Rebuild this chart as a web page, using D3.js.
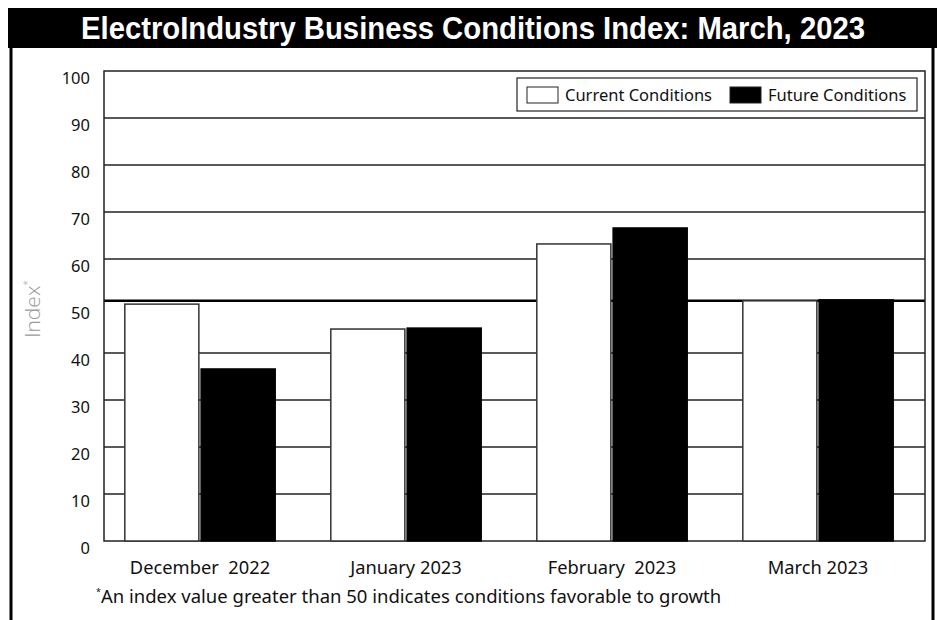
<!DOCTYPE html>
<html>
<head>
    <title>ElectroIndustry Business Conditions Index</title>
    <script src="https://d3js.org/d3.v7.min.js"></script>
    <style>
        body { margin: 0; background: #fff; }
        text { font-family: "Noto Sans", sans-serif; }
    </style>
</head>
<body>
    <svg width="938" height="620"></svg>
    <script>
        // chart data
        var months = ["December  2022", "January 2023", "February  2023", "March 2023"];
        var series = ["Current Conditions", "Future Conditions"];
        var current = [50.4, 45.1, 63.2, 51.1];
        var future = [36.6, 45.3, 66.6, 51.3];
        var yTicks = [0, 10, 20, 30, 40, 50, 60, 70, 80, 90, 100];
        var gridValues = [10, 20, 30, 40, 60, 70, 80, 90];
        var threshold = [51.1];

        var svg = d3.select("svg");

        var plot = { left: 104, right: 925, top: 71, bottom: 541 };

        var y = d3.scaleLinear().domain([0, 100]).range([plot.bottom, plot.top]);
        var x0 = d3.scaleBand().domain(months).range([97, 921])
            .paddingInner(0.27).paddingOuter(0.135);
        var x1 = d3.scaleBand().domain(series).range([0, x0.bandwidth()]).paddingInner(0.03);
        var fill = d3.scaleOrdinal().domain(series).range(["#fff", "#000"]);

        // outer frame
        svg.append("line").attr("x1", 11).attr("x2", 11).attr("y1", 30).attr("y2", 620)
            .attr("stroke", "#000").attr("stroke-width", 3);
        svg.append("line").attr("x1", 933).attr("x2", 933).attr("y1", 30).attr("y2", 620)
            .attr("stroke", "#000").attr("stroke-width", 3);

        // title bar
        svg.append("rect").attr("x", 8).attr("y", 8).attr("width", 929).attr("height", 40)
            .attr("fill", "#000");
        svg.append("text")
            .attr("x", 81).attr("y", 39)
            .attr("textLength", 784)
            .attr("lengthAdjust", "spacingAndGlyphs")
            .style("font-family", "'Liberation Sans', Arial, sans-serif")
            .style("font-weight", "bold")
            .style("font-size", "31px")
            .attr("fill", "#fff")
            .text("ElectroIndustry Business Conditions Index: March, 2023");

        // gridlines
        svg.selectAll(".grid")
            .data(gridValues)
            .enter().append("line")
            .attr("class", "grid")
            .attr("x1", plot.left).attr("x2", plot.right)
            .attr("y1", function(d) { return y(d); })
            .attr("y2", function(d) { return y(d); })
            .attr("stroke", "#222").attr("stroke-width", 1.5);

        // thick growth line
        svg.selectAll(".thresh")
            .data(threshold)
            .enter().append("line")
            .attr("class", "thresh")
            .attr("x1", plot.left).attr("x2", plot.right)
            .attr("y1", function(d) { return y(d); })
            .attr("y2", function(d) { return y(d); })
            .attr("stroke", "#000").attr("stroke-width", 2.5);

        // plot border
        svg.append("rect")
            .attr("x", plot.left).attr("y", plot.top)
            .attr("width", plot.right - plot.left).attr("height", plot.bottom - plot.top)
            .attr("fill", "none").attr("stroke", "#222").attr("stroke-width", 1.5);

        // bars
        var rows = months.map(function(m, i) {
            return { month: m, values: [
                { key: series[0], value: current[i] },
                { key: series[1], value: future[i] }
            ] };
        });

        var groups = svg.selectAll(".group")
            .data(rows)
            .enter().append("g")
            .attr("class", "group")
            .attr("transform", function(d) { return "translate(" + x0(d.month) + ",0)"; });

        groups.selectAll("rect")
            .data(function(d) { return d.values; })
            .enter().append("rect")
            .attr("x", function(d) { return x1(d.key); })
            .attr("width", x1.bandwidth())
            .attr("y", function(d) { return y(d.value); })
            .attr("height", function(d) { return y(0) - y(d.value); })
            .attr("fill", function(d) { return fill(d.key); })
            .attr("stroke", function(d) { return d.key === series[0] ? "#333" : "#000"; })
            .attr("stroke-width", 1.5);

        // y tick labels
        svg.selectAll(".ytick")
            .data(yTicks)
            .enter().append("text")
            .attr("class", "ytick")
            .attr("x", 90)
            .attr("y", function(d) { return y(d) + 13; })
            .attr("text-anchor", "end")
            .style("font-size", "16.5px")
            .attr("fill", "#111")
            .text(function(d) { return d; });

        // x labels
        svg.selectAll(".xlabel")
            .data(months)
            .enter().append("text")
            .attr("class", "xlabel")
            .attr("x", function(d) { return x0(d) + x0.bandwidth() / 2; })
            .attr("y", 574)
            .attr("text-anchor", "middle")
            .style("font-size", "18.3px")
            .style("white-space", "pre")
            .attr("fill", "#111")
            .text(function(d) { return d; });

        // y axis title
        var yt = svg.append("text")
            .attr("transform", "translate(40,309) rotate(-90)")
            .attr("text-anchor", "middle")
            .style("font-family", "'Open Sans', 'Noto Sans', sans-serif")
            .style("font-size", "21px")
            .style("font-weight", "300")
            .attr("fill", "#999");
        yt.append("tspan").text("Index");
        yt.append("tspan").attr("dy", -9).style("font-size", "10px").text("*");

        // legend
        var legend = svg.append("g");
        legend.append("rect")
            .attr("x", 517).attr("y", 78).attr("width", 400).attr("height", 33)
            .attr("fill", "#fff").attr("stroke", "#222").attr("stroke-width", 1.2);
        var legX = [527, 730];
        var items = legend.selectAll(".leg")
            .data(series)
            .enter().append("g")
            .attr("class", "leg")
            .attr("transform", function(d, i) { return "translate(" + legX[i] + ",87)"; });
        items.append("rect")
            .attr("width", 31).attr("height", 16)
            .attr("fill", function(d) { return fill(d); })
            .attr("stroke", "#222").attr("stroke-width", 1);
        items.append("text")
            .attr("x", 38).attr("y", 14)
            .style("font-size", "16.5px")
            .attr("fill", "#111")
            .text(function(d) { return d; });

        // footnote
        var fn = svg.append("text")
            .attr("x", 96).attr("y", 603)
            .style("font-size", "18.5px")
            .attr("fill", "#111");
        fn.append("tspan").attr("dy", -8).style("font-size", "9px").text("*");
        fn.append("tspan").attr("dy", 8)
            .text("An index value greater than 50 indicates conditions favorable to growth");
    </script>
</body>
</html>
